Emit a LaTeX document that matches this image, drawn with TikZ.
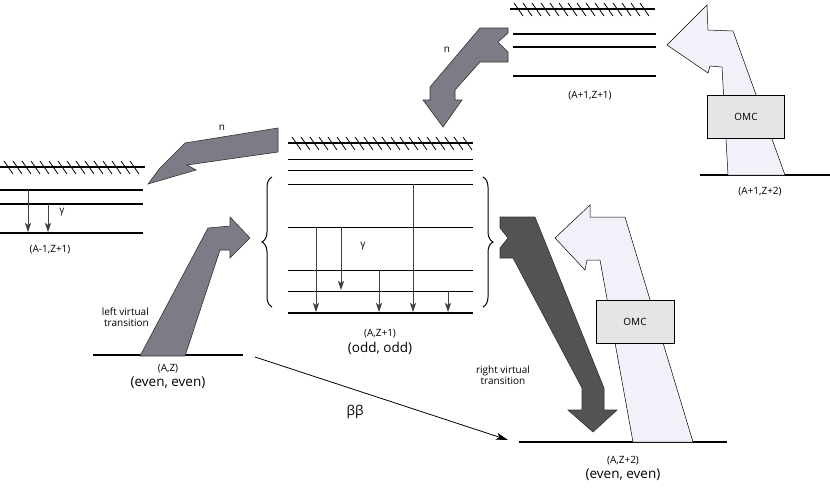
\documentclass[tikz,border=0pt]{standalone}
\usepackage{fontspec}
\setmainfont{Open Sans}
\usetikzlibrary{positioning,decorations.pathreplacing,arrows.meta}

\tikzset{
  levelL/.style={line width=1.1pt},
  thinL/.style={line width=0.6pt},
  darkA/.style={fill=black!47!blue!8!gray!95,draw=black!80,line width=0.6pt},
  lightA/.style={fill=gray!55,draw=black,line width=0.5pt},
  gammaA/.style={draw=black!75,line width=0.8pt,-{Stealth[length=9pt,width=6pt,inset=2pt]}},
  labelN/.style={font=\fontsize{10}{11}\selectfont,inner sep=1pt},
  bigN/.style={font=\fontsize{13.5}{15}\selectfont,inner sep=1pt}
}
\newcommand{\hatchlevel}[3]{% y, x from, x to
  \draw[levelL] (#2,#1) -- (#3,#1);
  \pgfmathtruncatemacro{\hs}{#2+8}
  \pgfmathtruncatemacro{\hn}{#2+17}
  \pgfmathtruncatemacro{\he}{#3-6}
  \foreach \hx in {\hs,\hn,...,\he}
    \draw[line width=0.8pt] (\hx-4,#1-6) -- (\hx+5,#1+7);
}

\begin{document}
\begin{tikzpicture}[x=1pt,y=-1pt]
  \useasboundingbox (0,0) rectangle (830,496);

  % (A-1,Z+1)
  \hatchlevel{167}{0}{145}
  \foreach \ly in {190,204,233} \draw[levelL] (0,\ly) -- (143,\ly);
  \draw[gammaA] (28,190) -- (28,232);
  \draw[gammaA] (48,204) -- (48,232);
  \node[labelN] (gl) at (62,212) {γ};
  \node[labelN] (aml) at (50,250) {(A-1,Z+1)};

  % (A,Z+1)
  \hatchlevel{143}{288}{473}
  \foreach \ly in {159,170,184,227,270,291} \draw[thinL] (288,\ly) -- (473,\ly);
  \draw[levelL] (288,313) -- (473,313);
  \draw[gammaA] (316,227) -- (316,312);
  \draw[gammaA] (341,227) -- (341,290);
  \draw[gammaA] (379,270) -- (379,312);
  \draw[gammaA] (413,184) -- (413,312);
  \draw[gammaA] (448,291) -- (448,312);
  \node[labelN] (gc) at (363,246) {γ};
  \draw[decorate,decoration={brace,amplitude=10pt},line width=1pt] (272,307) -- (272,177);
  \draw[decorate,decoration={brace,amplitude=10pt},line width=1pt] (483,177) -- (483,307);
  \node[labelN] (az1) at (380,334) {(A,Z+1)};
  \node[bigN,below=1pt of az1] (oo) {(odd, odd)};

  % (A+1,Z+1)
  \hatchlevel{9}{510}{655}
  \foreach \ly in {34,47,76} \draw[levelL] (513,\ly) -- (656,\ly);
  \node[labelN] (ap1) at (590,96) {(A+1,Z+1)};

  % (A+1,Z+2)
  \draw[levelL] (700,175) -- (830,175);
  \node[labelN] (ap2) at (760,192) {(A+1,Z+2)};

  % (A,Z) and (A,Z+2)
  \draw[levelL] (93,355) -- (243,355);
  \node[labelN] (az) at (168,369) {(A,Z)};
  \node[bigN,below=1pt of az] (ee1) {(even, even)};
  \draw[levelL] (519,442) -- (727,442);
  \node[labelN] (az2) at (623,461) {(A,Z+2)};
  \node[bigN,below=1pt of az2] (ee2) {(even, even)};

  % big arrows
  \draw[darkA] (140,356) -- (208,228) -- (230,226) -- (230,217) -- (250,238)
    -- (230,258) -- (230,250) -- (220,250) -- (185,356) -- cycle;
  \draw[darkA] (278,128) -- (185,143) -- (160,168) -- (148,184) -- (196,170)
    -- (187,165) -- (278,152) -- cycle;
  \draw[darkA] (508,28) -- (480,28) -- (430,87) -- (430,100) -- (423,100)
    -- (443,127) -- (462,100) -- (455,100) -- (455,90) -- (480,62) -- (508,62)
    -- (508,52) -- (498,42) -- (508,33) -- cycle;
  \draw[darkA,fill=black!50!gray!90] (500,217) -- (535,217) -- (604,388) -- (604,410)
    -- (617,410) -- (593,432) -- (568,410) -- (582,410) -- (582,388) -- (513,258)
    -- (500,258) -- (500,248) -- (508,238) -- (500,228) -- cycle;
  \draw[lightA,fill=gray!50!blue!10!white!75] (728,175) -- (722,67) -- (710,66) -- (708,73)
    -- (667,45) -- (707,5) -- (708,30) -- (733,31) -- (785,175) -- cycle;
  \draw[lightA,fill=gray!50!blue!10!white!75] (633,442) -- (600,260) -- (587,260) -- (585,270)
    -- (555,238) -- (590,205) -- (590,217) -- (625,217) -- (693,442) -- cycle;

  % OMC boxes
  \node[draw,fill=gray!20,labelN,minimum width=77pt,minimum height=43pt] (omc1) at (746,117) {OMC};
  \node[draw,fill=gray!20,labelN,minimum width=78pt,minimum height=43pt] (omc2) at (635,322) {OMC};

  % labels
  \node[labelN] (n1) at (222,128) {n};
  \node[labelN] (n2) at (447,50) {n};
  \node[labelN,align=right,anchor=east] (lvt) at (150,317) {left virtual\\transition};
  \node[labelN,align=center] (rvt) at (503,375) {right virtual\\transition};

  % double beta
  \coordinate (bbs) at (255,357);
  \coordinate (bbe) at (508,440);
  \draw[line width=0.8pt,-{Stealth[length=12pt,width=7pt,inset=3pt]}] (bbs) -- (bbe);
  \node[bigN] (bb) at (355,412) {ββ};
\end{tikzpicture}
\end{document}
